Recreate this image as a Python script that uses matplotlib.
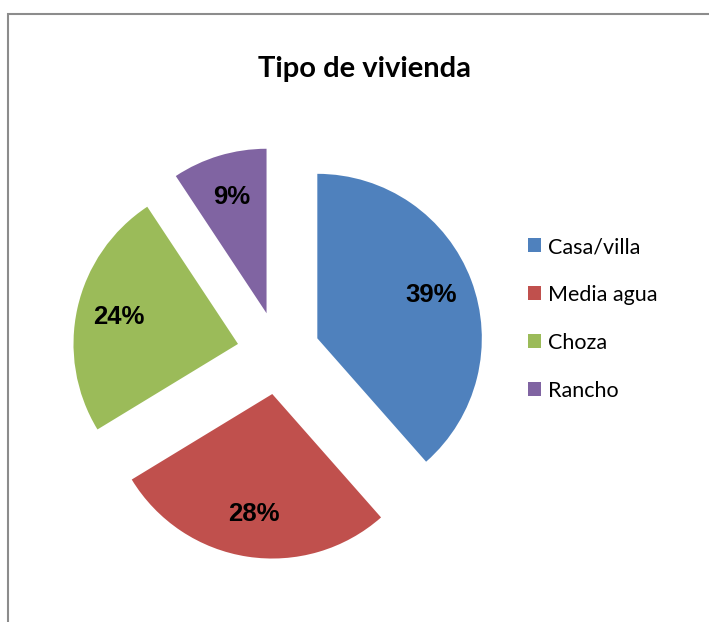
import matplotlib
matplotlib.use("Agg")
import matplotlib.pyplot as plt
from matplotlib.patches import Rectangle

categories = ["Casa/villa", "Media agua", "Choza", "Rancho"]
values = [38.5, 27.8, 24.4, 9.3]
pct_labels = ["39%", "28%", "24%", "9%"]
colors = ["#4F81BD", "#C0504D", "#9BBB59", "#8064A2"]
title = "Tipo de vivienda"

W, H = 709, 622
fig = plt.figure(figsize=(W / 100, H / 100), dpi=100)
fig.patch.set_facecolor("white")

# chart frame
fig.patches.append(Rectangle((8 / W, -0.1), 1.2, (H - 14) / H + 0.1,
                             transform=fig.transFigure, fill=False,
                             edgecolor="#8c8c8c", linewidth=1.5))

ax = fig.add_axes([0, 0, 1, 1])
ax.set_xlim(0, W)
ax.set_ylim(0, H)
ax.set_aspect("equal")
ax.axis("off")

wedges, texts, autotexts = ax.pie(
    values, colors=colors, startangle=90, counterclock=False,
    explode=[41.5] * len(values), radius=164.5, center=(278.5, H - 353),
    autopct="%1.0f%%", pctdistance=0.74,
    textprops=dict(family="Liberation Sans", fontweight="bold", fontsize=18.5, color="black"),
    wedgeprops=dict(linewidth=0))
for t, lab in zip(autotexts, pct_labels):
    t.set_text(lab)
ax.set_xlim(0, W)
ax.set_ylim(0, H)

fig.text(365 / W, 1 - 69 / H, title, ha="center", va="center",
         family="Lato", fontweight="bold", fontsize=21)

leg = ax.legend(wedges, categories, loc="upper left",
                bbox_to_anchor=(528 / W, 1 - 237 / H), bbox_transform=fig.transFigure,
                frameon=False, prop=dict(family="Lato", size=15.5),
                handlelength=0.62, handleheight=0.62, handletextpad=0.3,
                labelspacing=1.3, borderpad=0, borderaxespad=0)

fig.savefig("out.png", dpi=100)
